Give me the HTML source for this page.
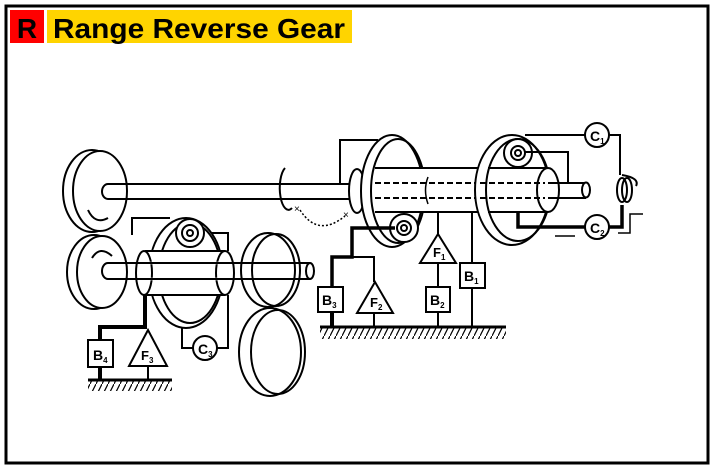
<!DOCTYPE html>
<html><head><meta charset="utf-8"><style>
html,body{margin:0;padding:0;background:#fff;width:715px;height:470px;overflow:hidden}
svg{display:block}
</style></head><body>
<svg width="715" height="470" viewBox="0 0 715 470" xmlns="http://www.w3.org/2000/svg" font-family="Liberation Sans, sans-serif">
<defs>
<pattern id="h" width="6" height="12" patternUnits="userSpaceOnUse"><path d="M6 0 L0 12" stroke="#000" stroke-width="1.2"/></pattern>
</defs>
<rect x="6" y="6" width="702" height="457" fill="none" stroke="#000" stroke-width="3"/>
<rect x="10" y="10" width="34" height="33" fill="#f00"/>
<text x="27" y="38" font-size="28" font-weight="bold" text-anchor="middle">R</text>
<rect x="47" y="10" width="305" height="33" fill="#ffd400"/>
<text x="53" y="38" font-size="28" font-weight="bold" textLength="292" lengthAdjust="spacingAndGlyphs">Range Reverse Gear</text>

<g fill="none" stroke="#000" stroke-width="2">
<ellipse cx="92" cy="191" rx="29" ry="41" fill="#fff"/>
<ellipse cx="100" cy="191" rx="27" ry="40" fill="#fff"/>
<path d="M88 210 Q95 225 108 218"/>
<ellipse cx="94" cy="272" rx="27" ry="37" fill="#fff"/>
<ellipse cx="102" cy="272" rx="25" ry="36" fill="#fff"/>
<path d="M92 258 Q100 245 112 256"/>
<path d="M108 184 L360 184 M108 199 L360 199 M108 184 A6 7.5 0 0 0 108 199"/>
<path d="M285 168 A8 20 0 1 0 292 208"/>
<path d="M300 210 Q318 238 345 216" stroke-dasharray="2 2" stroke-width="1.5"/>
<text x="294" y="212" font-size="10" fill="#000" stroke="none">×</text>
<text x="343" y="218" font-size="10" fill="#000" stroke="none">×</text>
<path d="M132 235 L132 218 L170 218 M195 233 L228 233 L228 348 L217 348 M182 295 L182 348 L193 348"/>
<circle cx="205" cy="348" r="12" fill="#fff"/>
<text x="198" y="354" font-size="14" font-weight="bold" fill="#000" stroke="none">C<tspan font-size="8" dy="3">3</tspan></text>
<ellipse cx="186" cy="273" rx="37" ry="55" fill="#fff"/>
<ellipse cx="190" cy="273" rx="31" ry="50"/>
<rect x="145" y="251" width="85" height="44" fill="#fff" stroke="none"/>
<path d="M145 251 L225 251 M145 295 L225 295"/>
<ellipse cx="144" cy="273" rx="8" ry="22" fill="#fff"/>
<ellipse cx="225" cy="273" rx="9" ry="22" fill="#fff"/>
<path d="M108 263 L310 263 M108 279 L310 279 M108 263 A6 8 0 0 0 108 279" />
<ellipse cx="310" cy="271" rx="4" ry="8" fill="#fff"/>
<path d="M150 263 L225 263 M150 279 L225 279" stroke-dasharray="5 3" stroke="#fff" stroke-width="2.5"/>
<path d="M150 263 L225 263 M150 279 L225 279" stroke-dasharray="5 3"/>
<circle cx="190" cy="233" r="14" fill="#fff"/>
<circle cx="190" cy="233" r="8"/>
<circle cx="190" cy="233" r="3"/>
<ellipse cx="268" cy="270" rx="27" ry="37" fill="none"/>
<ellipse cx="276" cy="270" rx="24" ry="36"/>
<ellipse cx="270" cy="352" rx="31" ry="44" fill="#fff"/>
<ellipse cx="278" cy="352" rx="27" ry="42"/>
<path d="M100 340 L100 327 L145 327 L145 295" stroke-width="4"/>
<rect x="88" y="340" width="25" height="27" fill="#fff"/>
<text x="93" y="360" font-size="14" font-weight="bold" fill="#000" stroke="none">B<tspan font-size="8" dy="3">4</tspan></text>
<path d="M148 330 L129 366 L167 366 Z" fill="#fff"/>
<text x="141" y="360" font-size="13" font-weight="bold" fill="#000" stroke="none">F<tspan font-size="8" dy="3">3</tspan></text>
<path d="M100 367 L100 380" stroke-width="4"/>
<path d="M148 366 L148 380"/>
<path d="M88 380 L172 380" stroke-width="3"/>
<rect x="88" y="381" width="84" height="10" fill="url(#h)" stroke="none"/>

<path d="M340 184 L340 140 L378 140"/>
<ellipse cx="357" cy="191" rx="8" ry="22" fill="#fff"/>
<ellipse cx="392" cy="191" rx="31" ry="56" fill="#fff"/>
<ellipse cx="398" cy="191" rx="27" ry="52"/>
<rect x="375" y="168" width="185" height="44" fill="#fff" stroke="none"/>
<path d="M375 168 L545 168 M375 212 L545 212"/>
<path d="M375 183 L545 183 M375 198 L545 198" stroke-dasharray="6 3"/>
<path d="M428 177 Q423 190 428 204" stroke-width="1.5"/>
<ellipse cx="512" cy="190" rx="37" ry="55" fill="#fff"/>
<ellipse cx="518" cy="190" rx="32" ry="51"/>
<path d="M488 168 L548 168 M488 212 L548 212"/>
<ellipse cx="548" cy="190" rx="11" ry="22" fill="#fff"/>
<path d="M548 183 L586 183 M548 198 L586 198"/>
<ellipse cx="586" cy="190" rx="4" ry="7.5" fill="#fff"/>
<path d="M480 183 L545 183 M480 198 L545 198" stroke-dasharray="6 3"/>
<circle cx="518" cy="153" r="14" fill="#fff"/>
<circle cx="518" cy="153" r="7"/>
<circle cx="518" cy="153" r="3"/>
<circle cx="404" cy="228" r="14" fill="#fff"/>
<circle cx="404" cy="228" r="7"/>
<circle cx="404" cy="228" r="3"/>
<path d="M525 135 L585 135 M525 152 L568 152 L568 183 M609 135 L620 135 L620 175"/>
<path d="M518 212 L518 227 L585 227 M609 227 L622 227 L622 205" stroke-width="3.5"/>
<path d="M555 236 L575 236 M618 233 L630 233 L630 214 L643 214" stroke-width="1.5"/>
<ellipse cx="622" cy="190" rx="5" ry="12"/>
<ellipse cx="627" cy="190" rx="5" ry="12"/>
<path d="M622 175 Q640 178 636 186"/>
<circle cx="597" cy="135" r="12" fill="#fff"/>
<text x="590" y="141" font-size="14" font-weight="bold" fill="#000" stroke="none">C<tspan font-size="8" dy="3">1</tspan></text>
<circle cx="597" cy="227" r="12" fill="#fff"/>
<text x="590" y="233" font-size="14" font-weight="bold" fill="#000" stroke="none">C<tspan font-size="8" dy="3">2</tspan></text>
<path d="M395 228 L352 228 L352 257 L332 257 L332 287" stroke-width="3.5"/>
<path d="M352 257 L374 257 L374 282"/>
<rect x="318" y="287" width="25" height="25" fill="#fff"/>
<text x="322" y="305" font-size="14" font-weight="bold" fill="#000" stroke="none">B<tspan font-size="8" dy="3">3</tspan></text>
<path d="M375 282 L357 313 L393 313 Z" fill="#fff"/>
<text x="370" y="307" font-size="13" font-weight="bold" fill="#000" stroke="none">F<tspan font-size="8" dy="3">2</tspan></text>
<path d="M438 212 L438 234 M438 263 L438 287"/>
<path d="M438 234 L420 263 L456 263 Z" fill="#fff"/>
<text x="433" y="257" font-size="13" font-weight="bold" fill="#000" stroke="none">F<tspan font-size="8" dy="3">1</tspan></text>
<rect x="426" y="287" width="24" height="25" fill="#fff"/>
<text x="430" y="305" font-size="14" font-weight="bold" fill="#000" stroke="none">B<tspan font-size="8" dy="3">2</tspan></text>
<path d="M472 212 L472 263 M472 288 L472 327"/>
<rect x="460" y="263" width="25" height="25" fill="#fff"/>
<text x="464" y="281" font-size="14" font-weight="bold" fill="#000" stroke="none">B<tspan font-size="8" dy="3">1</tspan></text>
<path d="M332 312 L332 327" stroke-width="4"/>
<path d="M374 313 L374 327 M438 312 L438 327"/>
<path d="M320 327 L506 327" stroke-width="3"/>
<rect x="320" y="328" width="186" height="11" fill="url(#h)" stroke="none"/>
</g>
</svg>
</body></html>
